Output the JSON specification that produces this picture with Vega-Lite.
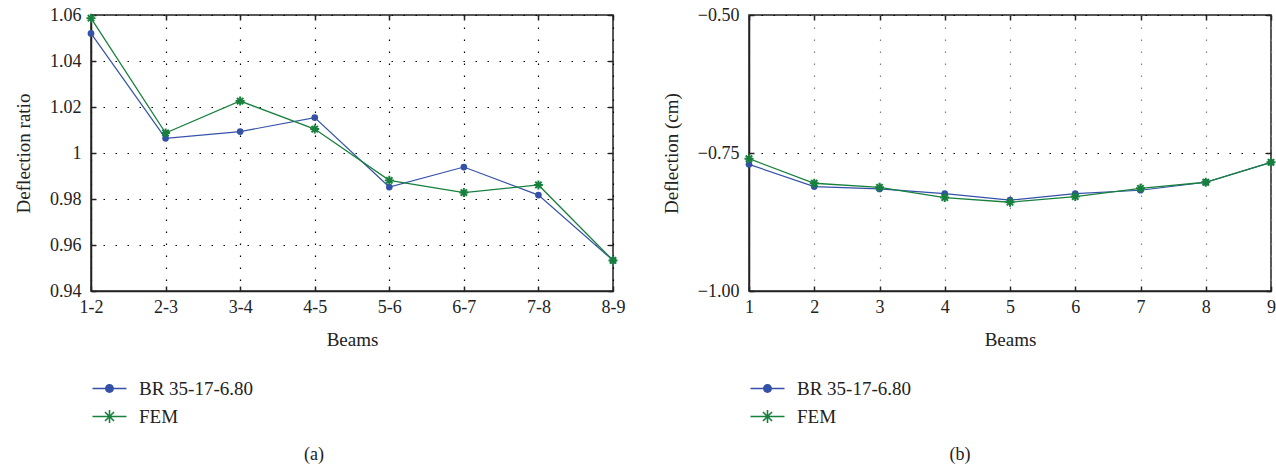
{
  "$schema": "https://vega.github.io/schema/vega-lite/v6.json",
  "background": "white",
  "padding": {"left": 13, "top": 5, "right": 0, "bottom": 0},
  "datasets": {
    "a": [
      {"beam": "1-2", "series": "BR 35-17-6.80", "value": 1.052},
      {"beam": "2-3", "series": "BR 35-17-6.80", "value": 1.0064},
      {"beam": "3-4", "series": "BR 35-17-6.80", "value": 1.0093},
      {"beam": "4-5", "series": "BR 35-17-6.80", "value": 1.0154},
      {"beam": "5-6", "series": "BR 35-17-6.80", "value": 0.9852},
      {"beam": "6-7", "series": "BR 35-17-6.80", "value": 0.9939},
      {"beam": "7-8", "series": "BR 35-17-6.80", "value": 0.9817},
      {"beam": "8-9", "series": "BR 35-17-6.80", "value": 0.9533},
      {"beam": "1-2", "series": "FEM", "value": 1.0586},
      {"beam": "2-3", "series": "FEM", "value": 1.0087},
      {"beam": "3-4", "series": "FEM", "value": 1.0226},
      {"beam": "4-5", "series": "FEM", "value": 1.0104},
      {"beam": "5-6", "series": "FEM", "value": 0.9881},
      {"beam": "6-7", "series": "FEM", "value": 0.9828},
      {"beam": "7-8", "series": "FEM", "value": 0.9861},
      {"beam": "8-9", "series": "FEM", "value": 0.9533}
    ],
    "b": [
      {"beam": 1, "series": "BR 35-17-6.80", "value": -0.7705},
      {"beam": 2, "series": "BR 35-17-6.80", "value": -0.8109},
      {"beam": 3, "series": "BR 35-17-6.80", "value": -0.8151},
      {"beam": 4, "series": "BR 35-17-6.80", "value": -0.8236},
      {"beam": 5, "series": "BR 35-17-6.80", "value": -0.8355},
      {"beam": 6, "series": "BR 35-17-6.80", "value": -0.8236},
      {"beam": 7, "series": "BR 35-17-6.80", "value": -0.8175},
      {"beam": 8, "series": "BR 35-17-6.80", "value": -0.803},
      {"beam": 9, "series": "BR 35-17-6.80", "value": -0.7669},
      {"beam": 1, "series": "FEM", "value": -0.7603},
      {"beam": 2, "series": "FEM", "value": -0.8048},
      {"beam": 3, "series": "FEM", "value": -0.8121},
      {"beam": 4, "series": "FEM", "value": -0.8308},
      {"beam": 5, "series": "FEM", "value": -0.8392},
      {"beam": 6, "series": "FEM", "value": -0.829},
      {"beam": 7, "series": "FEM", "value": -0.8139},
      {"beam": 8, "series": "FEM", "value": -0.803},
      {"beam": 9, "series": "FEM", "value": -0.7669}
    ]
  },
  "spacing": 35,
  "resolve": {
    "scale": {"color": "independent", "shape": "independent"},
    "legend": {"color": "independent", "shape": "independent"}
  },
  "hconcat": [
    {
      "width": 522,
      "height": 276,
      "data": {"name": "a"},
      "title": {"text": "(a)", "orient": "bottom", "anchor": "middle", "dx": -38, "offset": 19},
      "resolve": {"axis": {"x": "independent", "y": "independent"}},
      "layer": [
        {
          "transform": [{"filter": "datum.series === 'BR 35-17-6.80'"}],
          "mark": {"type": "line", "color": "#3451a8", "strokeWidth": 1.2},
          "encoding": {
            "x": {"field": "beam", "type": "ordinal",
              "scale": {"type": "point", "padding": 0, "domain": ["1-2", "2-3", "3-4", "4-5", "5-6", "6-7", "7-8", "8-9"]},
              "axis": {"orient": "bottom", "title": "Beams", "labelAngle": 0, "grid": true, "labelPadding": 12, "titlePadding": 14}},
            "y": {"field": "value", "type": "quantitative",
              "scale": {"domain": [0.94, 1.06], "nice": false, "zero": false},
              "axis": {"orient": "left", "title": "Deflection ratio", "values": [0.94, 0.96, 0.98, 1, 1.02, 1.04, 1.06], "format": "~g", "grid": true, "labelPadding": 15, "titlePadding": 16}}
          }
        },
        {
          "transform": [{"filter": "datum.series === 'FEM'"}],
          "mark": {"type": "line", "color": "#17803d", "strokeWidth": 1.3},
          "encoding": {
            "x": {"field": "beam", "type": "ordinal",
              "scale": {"type": "point", "padding": 0, "domain": ["1-2", "2-3", "3-4", "4-5", "5-6", "6-7", "7-8", "8-9"]},
              "axis": {"orient": "top", "title": null, "labels": false, "grid": false, "domain": false}},
            "y": {"field": "value", "type": "quantitative",
              "scale": {"domain": [0.94, 1.06], "nice": false, "zero": false},
              "axis": {"orient": "right", "title": null, "labels": false, "grid": false, "domain": false, "values": [0.94, 0.96, 0.98, 1, 1.02, 1.04, 1.06]}}
          }
        },
        {
          "transform": [{"filter": "datum.series === 'BR 35-17-6.80'"}],
          "mark": {"type": "point", "shape": "circle", "filled": true, "color": "#3451a8", "size": 45, "opacity": 1},
          "encoding": {
            "x": {"field": "beam", "type": "ordinal", "axis": null},
            "y": {"field": "value", "type": "quantitative", "axis": null}
          }
        },
        {
          "transform": [{"filter": "datum.series === 'FEM'"}],
          "mark": {"type": "point", "shape": "M-0.551,-0.863L0.863,0.551L0.551,0.863L-0.863,-0.551ZM0.551,-0.863L0.863,-0.551L-0.551,0.863L-0.863,0.551ZM-0.22,-1L0.22,-1L0.22,1L-0.22,1ZM-1,-0.22L1,-0.22L1,0.22L-1,0.22Z", "filled": true, "color": "#17803d", "size": 81, "opacity": 1},
          "encoding": {
            "x": {"field": "beam", "type": "ordinal", "axis": null},
            "y": {"field": "value", "type": "quantitative", "axis": null}
          }
        },
        {
          "mark": {"type": "point", "filled": true, "opacity": 0},
          "encoding": {
            "x": {"field": "beam", "type": "ordinal", "axis": null},
            "y": {"field": "value", "type": "quantitative", "axis": null},
            "color": {"field": "series", "type": "nominal",
              "scale": {"domain": ["BR 35-17-6.80", "FEM"], "range": ["#3451a8", "#17803d"]},
              "legend": {"title": null, "orient": "none", "legendX": 9, "legendY": 364, "labelFont": "Liberation Serif", "labelFontSize": 19}},
            "shape": {"field": "series", "type": "nominal",
              "scale": {"domain": ["BR 35-17-6.80", "FEM"], "range": [
                "M-2.125,-0.1L2.125,-0.1L2.125,0.1L-2.125,0.1ZM0.56,0A0.56,0.56 0 1,1 -0.56,0A0.56,0.56 0 1,1 0.56,0Z",
                "M-2.125,-0.1L2.125,-0.1L2.125,0.1L-2.125,0.1ZM-0.1,-0.8L0.1,-0.8L0.1,0.8L-0.1,0.8ZM-0.495,-0.637L0.637,0.495L0.495,0.637L-0.637,-0.495ZM0.495,-0.637L0.637,-0.495L-0.495,0.637L-0.637,0.495Z"
              ]},
              "legend": {"title": null, "orient": "none", "legendX": 9, "legendY": 364, "labelFont": "Liberation Serif", "labelFontSize": 19}}
          }
        }
      ]
    },
    {
      "width": 522,
      "height": 276,
      "data": {"name": "b"},
      "title": {"text": "(b)", "orient": "bottom", "anchor": "middle", "dx": -50, "offset": 19},
      "resolve": {"axis": {"x": "independent", "y": "independent"}},
      "layer": [
        {
          "transform": [{"filter": "datum.series === 'BR 35-17-6.80'"}],
          "mark": {"type": "line", "color": "#3451a8", "strokeWidth": 1.2},
          "encoding": {
            "x": {"field": "beam", "type": "quantitative",
              "scale": {"domain": [1, 9], "nice": false, "zero": false},
              "axis": {"orient": "bottom", "title": "Beams", "values": [1, 2, 3, 4, 5, 6, 7, 8, 9], "format": "d", "grid": true, "gridColor": "#808080", "labelPadding": 12, "titlePadding": 14}},
            "y": {"field": "value", "type": "quantitative",
              "scale": {"domain": [-1, -0.5], "nice": false, "zero": false},
              "axis": {"orient": "left", "title": "Deflection (cm)", "values": [-1, -0.75, -0.5], "format": ".2f", "grid": true, "labelPadding": 15, "titlePadding": 16}}
          }
        },
        {
          "transform": [{"filter": "datum.series === 'FEM'"}],
          "mark": {"type": "line", "color": "#17803d", "strokeWidth": 1.3},
          "encoding": {
            "x": {"field": "beam", "type": "quantitative",
              "scale": {"domain": [1, 9], "nice": false, "zero": false},
              "axis": {"orient": "top", "title": null, "labels": false, "grid": false, "domain": false, "values": [1, 2, 3, 4, 5, 6, 7, 8, 9]}},
            "y": {"field": "value", "type": "quantitative",
              "scale": {"domain": [-1, -0.5], "nice": false, "zero": false},
              "axis": {"orient": "right", "title": null, "labels": false, "grid": false, "domain": false, "values": [-1, -0.75, -0.5]}}
          }
        },
        {
          "transform": [{"filter": "datum.series === 'BR 35-17-6.80'"}],
          "mark": {"type": "point", "shape": "circle", "filled": true, "color": "#3451a8", "size": 45, "opacity": 1},
          "encoding": {
            "x": {"field": "beam", "type": "quantitative", "axis": null},
            "y": {"field": "value", "type": "quantitative", "axis": null}
          }
        },
        {
          "transform": [{"filter": "datum.series === 'FEM'"}],
          "mark": {"type": "point", "shape": "M-0.551,-0.863L0.863,0.551L0.551,0.863L-0.863,-0.551ZM0.551,-0.863L0.863,-0.551L-0.551,0.863L-0.863,0.551ZM-0.22,-1L0.22,-1L0.22,1L-0.22,1ZM-1,-0.22L1,-0.22L1,0.22L-1,0.22Z", "filled": true, "color": "#17803d", "size": 81, "opacity": 1},
          "encoding": {
            "x": {"field": "beam", "type": "quantitative", "axis": null},
            "y": {"field": "value", "type": "quantitative", "axis": null}
          }
        },
        {
          "mark": {"type": "point", "filled": true, "opacity": 0},
          "encoding": {
            "x": {"field": "beam", "type": "quantitative", "axis": null},
            "y": {"field": "value", "type": "quantitative", "axis": null},
            "color": {"field": "series", "type": "nominal",
              "scale": {"domain": ["BR 35-17-6.80", "FEM"], "range": ["#3451a8", "#17803d"]},
              "legend": {"title": null, "orient": "none", "legendX": 9, "legendY": 364, "labelFont": "Liberation Serif", "labelFontSize": 19}},
            "shape": {"field": "series", "type": "nominal",
              "scale": {"domain": ["BR 35-17-6.80", "FEM"], "range": [
                "M-2.125,-0.1L2.125,-0.1L2.125,0.1L-2.125,0.1ZM0.56,0A0.56,0.56 0 1,1 -0.56,0A0.56,0.56 0 1,1 0.56,0Z",
                "M-2.125,-0.1L2.125,-0.1L2.125,0.1L-2.125,0.1ZM-0.1,-0.8L0.1,-0.8L0.1,0.8L-0.1,0.8ZM-0.495,-0.637L0.637,0.495L0.495,0.637L-0.637,-0.495ZM0.495,-0.637L0.637,-0.495L-0.495,0.637L-0.637,0.495Z"
              ]},
              "legend": {"title": null, "orient": "none", "legendX": 9, "legendY": 364, "labelFont": "Liberation Serif", "labelFontSize": 19}}
          }
        }
      ]
    }
  ],
  "config": {
    "font": "Liberation Serif",
    "view": {"stroke": "#222", "strokeWidth": 1.5},
    "axis": {
      "domainColor": "#222", "domainWidth": 1.5,
      "tickColor": "#222", "tickWidth": 1.5, "tickSize": -5,
      "labelFont": "Liberation Serif", "labelFontSize": 18, "labelColor": "#222",
      "titleFont": "Liberation Serif", "titleFontSize": 19, "titleFontWeight": "normal", "titleColor": "#222",
      "gridColor": "#000", "gridDash": [1.5, 10.5], "gridWidth": 1.2, "gridOpacity": 1,
      "labelOverlap": false, "labelFlush": false
    },
    "legend": {
      "padding": 0, "offset": 0,
      "symbolSize": 256, "symbolStrokeWidth": 0, "symbolOpacity": 1,
      "labelOffset": 20, "rowPadding": 8,
      "labelFont": "Liberation Serif", "labelFontSize": 19, "labelColor": "#222",
      "labelLimit": 300
    },
    "title": {"font": "Liberation Serif", "fontSize": 18, "fontWeight": "normal", "color": "#222"}
  }
}
